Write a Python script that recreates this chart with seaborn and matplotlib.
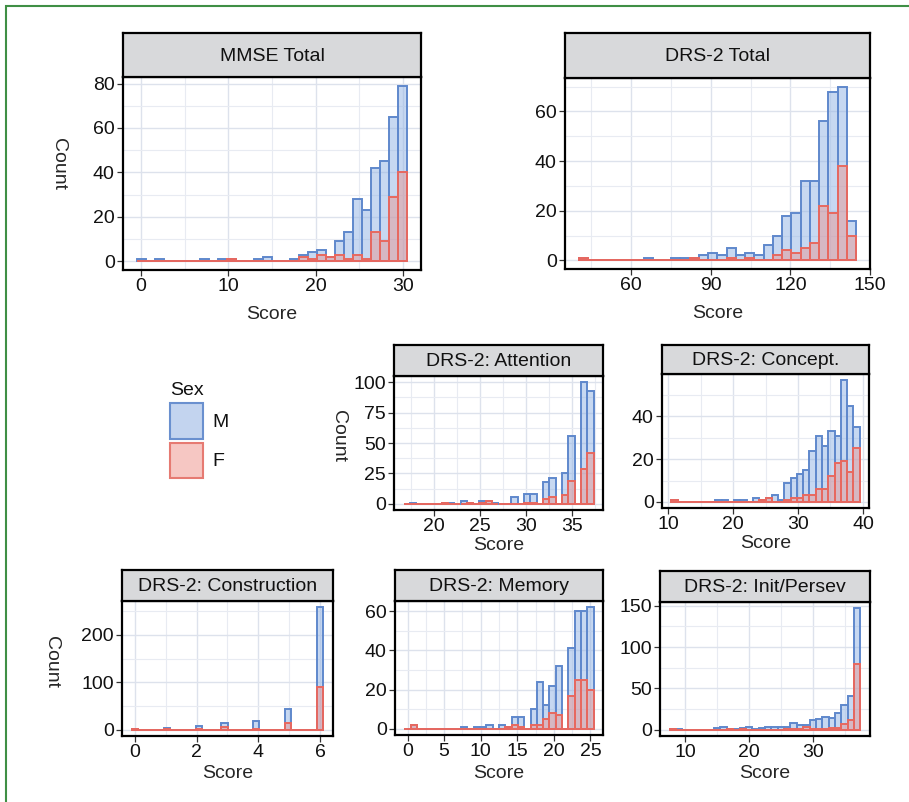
import numpy as np
import pandas as pd
import seaborn as sns
import matplotlib.pyplot as plt
from matplotlib.patches import Patch, Rectangle
from matplotlib.ticker import AutoMinorLocator

# score range (min, max) of each scale; every panel uses 30 bins
# *_m = blue (M) bar heights, *_f = red (F) bar heights, one value per bin
mmse_range = (0, 30)
mmse_m = [1, 0, 1, 0, 0, 0, 0, 1, 0, 1, 1, 0, 0, 1, 2, 0, 0, 1, 3, 4, 5, 2, 9, 13, 28, 23, 42, 45, 65, 79]
mmse_f = [0, 0, 0, 0, 0, 0, 0, 0, 0, 0, 1, 0, 0, 0, 0, 0, 0, 0, 2, 1, 3, 2, 3, 1, 3, 1, 13, 9, 29, 40]

drs_range = (42, 143)
drs_m = [1, 0, 0, 0, 0, 0, 0, 1, 0, 0, 1, 1, 1, 2, 3, 2, 5, 2, 3, 2, 6, 10, 18, 19, 32, 32, 56, 68, 70, 16]
drs_f = [1, 0, 0, 0, 0, 0, 0, 0, 0, 0, 0, 0, 1, 0, 0, 0, 1, 0, 1, 0, 0, 2, 4, 3, 5, 7, 22, 19, 38, 10]

attn_range = (17, 37)
attn_m = [0, 1, 0, 0, 0, 0, 1, 1, 0, 2, 1, 0, 2, 2, 1, 0, 0, 6, 0, 8, 8, 0, 18, 21, 0, 25, 56, 0, 100, 93]
attn_f = [0, 0, 0, 0, 0, 0, 1, 0, 0, 0, 1, 0, 1, 2, 0, 0, 0, 0, 0, 1, 1, 0, 4, 6, 0, 7, 19, 0, 29, 42]

concept_range = (11, 39)
concept_m = [1, 0, 0, 0, 0, 0, 0, 1, 1, 0, 1, 1, 0, 2, 1, 2, 3, 1, 9, 11, 13, 15, 24, 31, 26, 33, 31, 57, 45, 35]
concept_f = [1, 0, 0, 0, 0, 0, 0, 0, 0, 0, 0, 0, 0, 0, 1, 2, 0, 0, 1, 2, 2, 3, 3, 6, 6, 12, 18, 19, 14, 25]

constr_range = (0, 6)
constr_m = [2, 0, 0, 0, 0, 4, 0, 0, 0, 0, 8, 0, 0, 0, 14, 0, 0, 0, 0, 19, 0, 0, 0, 0, 44, 0, 0, 0, 0, 258]
constr_f = [2, 0, 0, 0, 0, 2, 0, 0, 0, 0, 1, 0, 0, 0, 6, 0, 0, 0, 0, 2, 0, 0, 0, 0, 15, 0, 0, 0, 0, 90]

memory_range = (0, 25)
memory_m = [0, 2, 0, 0, 0, 0, 0, 0, 0, 1, 0, 1, 1, 2, 0, 2, 1, 6, 6, 0, 10, 24, 12, 22, 32, 0, 41, 60, 60, 62]
memory_f = [0, 2, 0, 0, 0, 0, 0, 0, 0, 0, 0, 0, 0, 0, 0, 0, 1, 2, 1, 0, 2, 2, 5, 8, 7, 0, 17, 25, 25, 20]

init_range = (8, 37)
init_m = [1, 1, 0, 0, 0, 0, 0, 2, 3, 1, 1, 2, 3, 1, 2, 4, 4, 3, 3, 8, 6, 6, 12, 13, 15, 14, 21, 30, 41, 147]
init_f = [1, 0, 0, 0, 0, 0, 0, 0, 0, 1, 0, 1, 0, 0, 0, 0, 0, 0, 1, 1, 1, 3, 1, 1, 1, 2, 2, 7, 12, 80]

sex_labels = ["M", "F"]

BLUE_EDGE = "#5f88cc"
BLUE_FILL = (0.60, 0.72, 0.90, 0.55)
RED_EDGE = "#e8685f"
RED_FILL = (0.93, 0.55, 0.52, 0.42)
FS = 14

W, H = 909, 802

sns.set_theme(style="white")
plt.rcParams["font.family"] = ["Liberation Sans", "DejaVu Sans"]
plt.rcParams["text.color"] = "#111111"

fig = plt.figure(figsize=(W / 100, H / 100), dpi=100)
fig.patch.set_facecolor("white")


def px(x0, y0, x1, y1):
    return [x0 / W, 1 - y1 / H, (x1 - x0) / W, (y1 - y0) / H]


# title, range, m, f, plot box, strip top, xticks, yticks, ylabel x (axes frac) or None, xlabel pad
panels = [
    ("MMSE Total", mmse_range, mmse_m, mmse_f, (123, 77, 421, 270), 33,
     [0, 10, 20, 30], [0, 20, 40, 60, 80], -0.215, 8),
    ("DRS-2 Total", drs_range, drs_m, drs_f, (565, 78, 870, 269), 33,
     [60, 90, 120, 150], [0, 20, 40, 60], None, 8),
    ("DRS-2: Attention", attn_range, attn_m, attn_f, (394, 376, 603, 510), 345,
     [20, 25, 30, 35], [0, 25, 50, 75, 100], -0.265, 1),
    ("DRS-2: Concept.", concept_range, concept_m, concept_f, (662, 374, 869, 508), 345,
     [10, 20, 30, 40], [0, 20, 40], None, 1),
    ("DRS-2: Construction", constr_range, constr_m, constr_f, (122, 601, 333, 736), 570,
     [0, 2, 4, 6], [0, 100, 200], -0.335, 3),
    ("DRS-2: Memory", memory_range, memory_m, memory_f, (395, 601, 603, 735), 570,
     [0, 5, 10, 15, 20, 25], [0, 20, 40, 60], None, 3),
    ("DRS-2: Init/Persev", init_range, init_m, init_f, (660, 602, 870, 736), 571,
     [10, 20, 30], [0, 50, 100, 150], None, 3),
]

for title, rng, m, f, box, strip_top, xt, yt, ylab_x, xpad in panels:
    lo, hi = rng
    w = (hi - lo) / 29
    edges = np.linspace(lo - w / 2, hi + w / 2, 31)
    df = pd.DataFrame({"score": (edges[:-1] + edges[1:]) / 2, "M": m, "F": f})
    bins = edges.tolist()

    ax = fig.add_axes(px(*box))
    sns.histplot(data=df, x="score", weights="M", bins=bins, ax=ax,
                 facecolor=BLUE_FILL, edgecolor=BLUE_EDGE, linewidth=1.4)
    sns.histplot(data=df, x="score", weights="F", bins=bins, ax=ax,
                 facecolor=RED_FILL, edgecolor=RED_EDGE, linewidth=1.4)

    span = edges[-1] - edges[0]
    ax.set_xlim(edges[0] - 0.05 * span, edges[-1] + 0.05 * span)
    ymax = max(m)
    ax.set_ylim(-0.05 * ymax, 1.05 * ymax)
    ax.set_xticks(xt)
    ax.set_yticks(yt)
    ax.xaxis.set_minor_locator(AutoMinorLocator(2))
    ax.yaxis.set_minor_locator(AutoMinorLocator(2))
    ax.grid(which="major", color="#dde2ec", linewidth=1.0)
    ax.grid(which="minor", color="#e8ebf2", linewidth=0.8)
    ax.set_axisbelow(True)
    for s in ax.spines.values():
        s.set_color("black")
        s.set_linewidth(1.6)
    ax.tick_params(which="major", direction="out", length=4, width=0.9,
                   color="#333333", labelsize=FS, labelcolor="#111111", pad=2,
                   bottom=True, left=True)
    ax.tick_params(which="minor", length=0)

    ax.set_xlabel("Score", fontsize=FS, labelpad=xpad)
    if ylab_x is None:
        ax.set_ylabel("")
    else:
        ax.set_ylabel("Count", fontsize=FS, rotation=-90, va="center", ha="center")
        ax.yaxis.set_label_coords(ylab_x, 0.55)

    # facet strip
    sax = fig.add_axes(px(box[0], strip_top, box[2], box[1]))
    sax.set_facecolor("#d8d9db")
    sax.set_xticks([])
    sax.set_yticks([])
    for s in sax.spines.values():
        s.set_color("black")
        s.set_linewidth(1.6)
    sax.text(0.5, 0.47, title, ha="center", va="center", fontsize=FS,
             transform=sax.transAxes)

handles = [
    Patch(facecolor="#c3d4ef", edgecolor="#6a90cf", linewidth=1.5),
    Patch(facecolor="#f6c7c3", edgecolor="#e67a72", linewidth=1.5),
]
fig.legend(handles, sex_labels, title="Sex", loc="upper left",
           bbox_to_anchor=(170 / W, 1 - 382 / H), frameon=False,
           fontsize=FS, title_fontsize=FS, handlelength=1.7, handleheight=2.45,
           handletextpad=0.5, labelspacing=0.2, borderpad=0, borderaxespad=0,
           alignment="left")

# green frame around the figure
fig.add_artist(Rectangle((5.5 / W, -0.5), 2, 1 - 6.5 / H + 0.5,
                         transform=fig.transFigure, fill=False,
                         edgecolor="#3f8f45", linewidth=1.5))

fig.savefig("out.png", dpi=100)
